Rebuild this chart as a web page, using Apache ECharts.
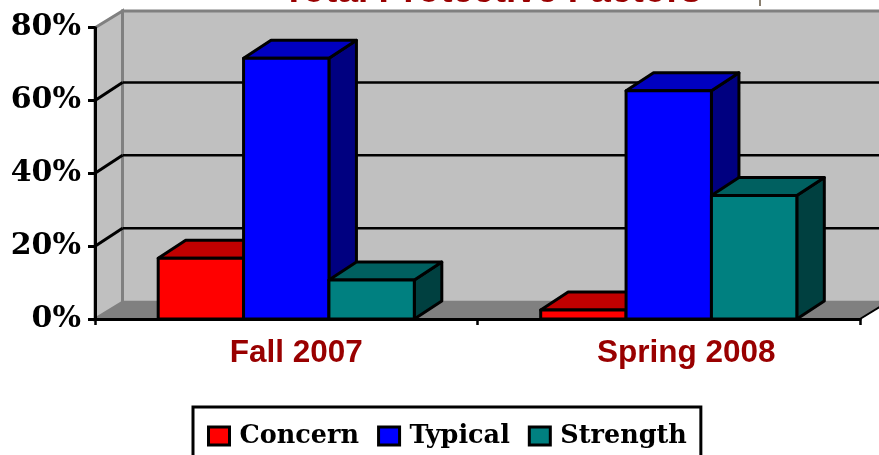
<!DOCTYPE html>
<html><head><meta charset="utf-8">
<style>html,body{margin:0;padding:0;background:#fff;overflow:hidden}#c{width:879px;height:455px}</style>
<script src="https://cdn.jsdelivr.net/npm/echarts@6/dist/echarts.min.js"></script>
</head><body><div id="c"></div>
<script>
const categories = ['Fall 2007', 'Spring 2008'];
const concern = [16.7, 2.5];
const typical = [71.6, 62.7];
const strength = [10.7, 33.9];
const yTicks = [0, 20, 40, 60, 80];

const DX = 27.5, DY = 18, WALL_DY = 16.8, BAR_FRAC = 0.2232;
const labelPadLeft = [20, 35];
const chart = echarts.init(document.getElementById('c'));

function renderWalls(params, api) {
  const c = params.coordSys;
  const x0 = c.x, x1 = c.x + c.width, top = c.y, bot = c.y + c.height;
  const grey = '#808080';
  const kids = [
    {type:'polygon', shape:{points:[[x0,bot],[x1,bot],[x1+DX,bot-WALL_DY],[x0+DX,bot-WALL_DY]]}, style:{fill:grey, stroke:'#6e6e6e', lineWidth:1}},
    {type:'polygon', shape:{points:[[x0,top],[x0+DX,top-WALL_DY],[x0+DX,bot-WALL_DY],[x0,bot]]}, style:{fill:'#c0c0c0', stroke:grey, lineWidth:3}},
    {type:'rect', shape:{x:x0+DX, y:top-WALL_DY, width:c.width, height:c.height}, style:{fill:'#c0c0c0', stroke:grey, lineWidth:3}},
    {type:'line', shape:{x1:x1,y1:bot,x2:x1+DX,y2:bot-WALL_DY}, style:{stroke:'#000', lineWidth:2}}
  ];
  yTicks.slice(1, -1).forEach(v => {
    const y = api.coord([0, v])[1];
    kids.push({type:'line', shape:{x1:x0+DX,y1:y-DY,x2:x1+DX,y2:y-DY}, style:{stroke:'#000', lineWidth:2.5}});
    kids.push({type:'line', shape:{x1:x0,y1:y,x2:x0+DX,y2:y-DY}, style:{stroke:'#000', lineWidth:3}});
  });
  return {type:'group', children:kids};
}

function bar3d(slot, front, topC, sideC) {
  return function (params, api) {
    const base = api.coord([api.value(0), 0]);
    const tip = api.coord([api.value(0), api.value(1)]);
    const w = api.size([1, 0])[0] * BAR_FRAC;
    const l = base[0] + (slot - 1.5) * w, r = l + w, t = tip[1], b = base[1];
    const st = f => ({fill:f, stroke:'#000', lineWidth:3, lineJoin:'round'});
    return {type:'group', children:[
      {type:'polygon', shape:{points:[[r,b],[r+DX,b-DY],[r+DX,t-DY],[r,t]]}, style:st(sideC)},
      {type:'polygon', shape:{points:[[l,t],[l+DX,t-DY],[r+DX,t-DY],[r,t]]}, style:st(topC)},
      {type:'rect', shape:{x:l,y:t,width:w,height:b-t}, style:st(front)}
    ]};
  };
}
function barSeries(name, values, slot, front, topC, sideC) {
  return {type:'custom', name, z:3, clip:false, itemStyle:{color:front},
    encode:{x:0,y:1}, data:values.map((v,i)=>[i,v]),
    renderItem:bar3d(slot, front, topC, sideC)};
}

chart.setOption({
  animation:false,
  backgroundColor:'#fff',
  title:{text:'Total Protective Factors', left:487, textAlign:'center', top:-32,
    textStyle:{fontFamily:'Liberation Sans', fontWeight:'bold', fontSize:37, color:'#990000'}},
  grid:{left:95, right:19, top:27.7, bottom:136, containLabel:false},
  xAxis:{type:'category', z:10,
    data:categories.map((c,i)=>({value:c, textStyle:{padding:[0,0,0,labelPadLeft[i]]}})),
    axisLine:{lineStyle:{color:'#000', width:3}},
    axisTick:{show:true, alignWithLabel:false, length:6, lineStyle:{color:'#000', width:2.5}},
    axisLabel:{fontFamily:'Liberation Sans', fontWeight:'bold', fontSize:31.5, color:'#990000', margin:18}},
  yAxis:{type:'value', min:0, max:80, interval:20, z:10,
    axisLine:{show:true, lineStyle:{color:'#000', width:3}},
    axisTick:{show:true, length:7, lineStyle:{color:'#000', width:3}},
    splitLine:{show:false},
    axisLabel:{formatter:'{value}%', fontFamily:'DejaVu Serif', fontWeight:'bold', fontSize:30, color:'#000', margin:14, padding:[0,0,2,0]}},
  legend:{left:193, top:407, orient:'horizontal', data:['Concern','Typical','Strength'],
    padding:[16,14,40,14], itemGap:18, itemWidth:21, itemHeight:18,
    backgroundColor:'#fff', borderColor:'#000', borderWidth:3, borderRadius:0,
    icon:'rect', itemStyle:{borderColor:'#000', borderWidth:3},
    textStyle:{fontFamily:'DejaVu Serif', fontWeight:'bold', fontSize:25.5, color:'#000', padding:[0,0,0,5]}},
  graphic:[{type:'rect', shape:{x:759,y:0,width:2,height:6}, style:{fill:'#8a7f70'}}],
  series:[
    {type:'custom', name:'walls', z:1, clip:false, silent:true, encode:{x:0,y:1}, data:[[0,0]], renderItem:renderWalls},
    barSeries('Concern', concern, 0, '#ff0000', '#c00000', '#800000'),
    barSeries('Typical', typical, 1, '#0000ff', '#0000c0', '#000080'),
    barSeries('Strength', strength, 2, '#008080', '#006060', '#004040')
  ]
});
</script></body></html>
